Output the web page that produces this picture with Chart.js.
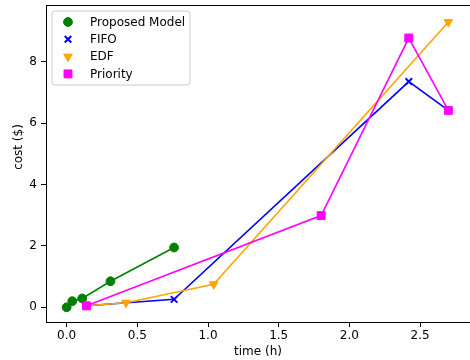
<!DOCTYPE html>
<html>
<head>
<meta charset="utf-8">
<script src="https://cdn.jsdelivr.net/npm/chart.js@4"></script>
<style>
  html, body { margin: 0; padding: 0; background: #fff; overflow: hidden; }
  #wrap { width: 470px; height: 360px; }
  canvas { display: block; }
</style>
</head>
<body>
<div id="wrap"><canvas id="c" width="470" height="360"></canvas></div>
<script>
// values
const proposedTime = [0.0, 0.04, 0.11, 0.31, 0.76];
const proposedCost = [0.0, 0.20, 0.29, 0.85, 1.95];
const fifoTime     = [0.14, 0.76, 2.42, 2.70];
const fifoCost     = [0.05, 0.26, 7.36, 6.42];
const edfTime      = [0.14, 0.42, 1.04, 2.70];
const edfCost      = [0.05, 0.15, 0.75, 9.30];
const prioTime     = [0.14, 1.80, 2.42, 2.70];
const prioCost     = [0.05, 2.99, 8.78, 6.42];

const xTicks = [0.0, 0.5, 1.0, 1.5, 2.0, 2.5];
const yTicks = [0, 2, 4, 6, 8];

const FONT = "'DejaVu Sans', sans-serif";
const toPts = (xs, ys) => xs.map((x, i) => ({ x, y: ys[i] }));

function series(label, xs, ys, color, style, order, extra) {
  return Object.assign({
    label,
    data: toPts(xs, ys),
    borderColor: color,
    backgroundColor: color,
    pointBackgroundColor: color,
    pointBorderColor: color,
    borderWidth: 1.6,
    pointStyle: style,
    pointRadius: 4.4,
    pointBorderWidth: 1,
    showLine: true,
    tension: 0,
    order
  }, extra || {});
}

function noPad(s) {
  s.paddingTop = 0; s.paddingBottom = 0;
  s.paddingLeft = 0; s.paddingRight = 0;
}

// matplotlib-like legend box in the upper left of the plot area
const boxLegend = {
  id: 'boxLegend',
  afterDatasetsDraw(chart) {
    const { ctx, chartArea } = chart;
    const x0 = chartArea.left + 6, y0 = chartArea.top + 6;
    const w = 138, h = 74, rowH = 17.3;
    ctx.save();
    ctx.beginPath();
    ctx.roundRect(x0, y0, w, h, 3);
    ctx.fillStyle = 'rgba(255,255,255,0.8)';
    ctx.fill();
    ctx.strokeStyle = '#cccccc';
    ctx.lineWidth = 1;
    ctx.stroke();
    ctx.font = '12px ' + FONT;
    ctx.textBaseline = 'middle';
    chart.data.datasets.forEach((ds, i) => {
      const cy = y0 + 11 + i * rowH;
      ctx.fillStyle = ds.pointBackgroundColor;
      ctx.strokeStyle = ds.pointBorderColor;
      ctx.lineWidth = ds.pointBorderWidth;
      Chart.helpers.drawPoint(ctx, {
        pointStyle: ds.pointStyle,
        radius: ds.pointRadius,
        rotation: ds.pointRotation || 0,
        borderWidth: ds.pointBorderWidth
      }, x0 + 16, cy);
      ctx.fillStyle = '#000';
      ctx.fillText(ds.label, x0 + 38, cy + 0.5);
    });
    ctx.restore();
  }
};

// top spine and y axis title
const frame = {
  id: 'frame',
  afterDraw(chart) {
    const { ctx, chartArea } = chart;
    ctx.save();
    ctx.strokeStyle = '#000';
    ctx.lineWidth = 1;
    ctx.beginPath();
    ctx.moveTo(chartArea.left, chartArea.top + 0.5);
    ctx.lineTo(chartArea.right, chartArea.top + 0.5);
    ctx.stroke();
    ctx.translate(19, 147);
    ctx.rotate(-Math.PI / 2);
    ctx.font = '12px ' + FONT;
    ctx.fillStyle = '#000';
    ctx.textAlign = 'center';
    ctx.textBaseline = 'middle';
    ctx.fillText('cost ($)', 0, 0);
    ctx.restore();
  }
};

new Chart(document.getElementById('c'), {
  type: 'scatter',
  data: {
    datasets: [
      series('Proposed Model', proposedTime, proposedCost, '#008000', 'circle', 3),
      series('FIFO', fifoTime, fifoCost, '#0000ff', 'crossRot', 2, { pointBorderWidth: 2, pointRadius: 4.6 }),
      series('EDF', edfTime, edfCost, '#ffa500', 'triangle', 1, { pointRotation: 180, pointRadius: 5 }),
      series('Priority', prioTime, prioCost, '#ff00ff', 'rect', 0, { pointRadius: 5.6 })
    ]
  },
  options: {
    responsive: false,
    animation: false,
    layout: { autoPadding: false, padding: { top: 5, right: 0, left: 0, bottom: 0 } },
    plugins: {
      legend: { display: false },
      tooltip: { enabled: false }
    },
    scales: {
      x: {
        type: 'linear',
        min: -0.146,
        max: 2.853,
        afterFit: s => { s.height = 38; noPad(s); },
        afterBuildTicks: s => { s.ticks = xTicks.map(v => ({ value: v })); },
        border: { color: '#000', width: 1 },
        grid: { drawOnChartArea: false, drawTicks: true, tickLength: 5, color: '#000' },
        ticks: {
          color: '#000', padding: 2, maxRotation: 0,
          font: { family: FONT, size: 12 },
          callback: v => v.toFixed(1)
        },
        title: {
          display: true, text: 'time (h)', color: '#000',
          font: { family: FONT, size: 12 }, padding: { top: 0, bottom: 1 }
        }
      },
      y: {
        type: 'linear',
        min: -0.479,
        max: 9.857,
        afterFit: s => { s.width = 46; noPad(s); },
        afterBuildTicks: s => { s.ticks = yTicks.map(v => ({ value: v })); },
        border: { color: '#000', width: 1 },
        grid: { drawOnChartArea: false, drawTicks: true, tickLength: 5, color: '#000' },
        ticks: {
          color: '#000', padding: 4,
          font: { family: FONT, size: 12 },
          callback: v => String(v)
        },
        title: { display: false }
      }
    }
  },
  plugins: [boxLegend, frame]
});
</script>
</body>
</html>
